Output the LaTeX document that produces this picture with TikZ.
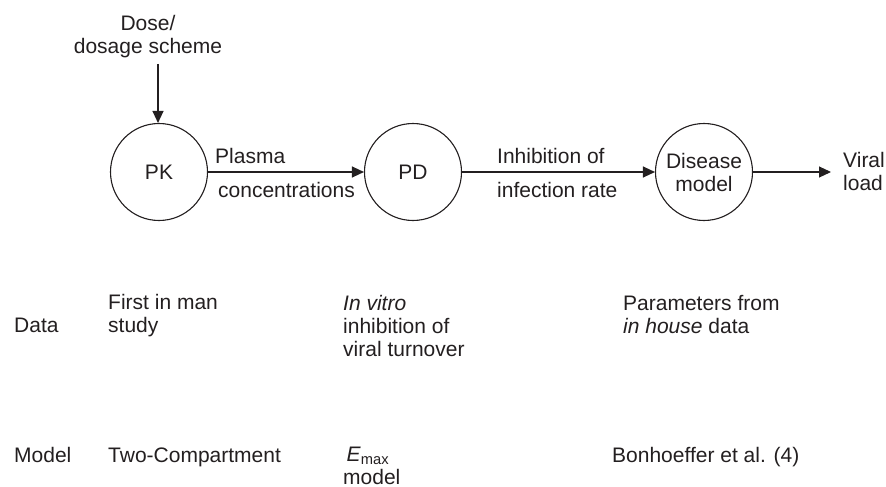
\documentclass[tikz,border=0pt]{standalone}
\usepackage{fontspec}
\setmainfont{Liberation Sans}
\usetikzlibrary{arrows.meta}
\definecolor{ink}{RGB}{35,31,32}
\tikzset{
  proc/.style={circle, draw=ink, line width=1.1pt, minimum size=97pt, inner sep=0pt, text=ink, align=center},
  lbl/.style={anchor=base west, inner sep=0pt, text=ink, align=left},
  arr/.style={draw=ink, line width=1.1pt, -{Triangle[length=12pt,width=11pt]}},
}
\begin{document}
\begin{tikzpicture}[x=1pt,y=-1pt, font=\fontsize{21}{23}\selectfont]
\useasboundingbox (0,0) rectangle (886,487);
% process circles
\node[proc] (PK) at (159,172) {PK};
\node[proc] (PD) at (413,172) {PD};
\node[proc] (DM) at (704,172) {Disease\\model};
% dose input
\node[anchor=base, inner sep=0pt, text=ink, align=center] (dose) at (148,53) {Dose/\\dosage scheme};
\coordinate (d0) at (158,64);
\draw[arr] (d0) -- (d0 |- PK.north);
% connectors
\draw[arr] (PK) -- (PD);
\draw[arr] (PD) -- (DM);
\coordinate (vl) at (831,172);
\draw[arr] (DM) -- (vl);
% connector labels
\node[lbl] (plasma) at (215,163) {Plasma};
\node[lbl] (conc) at (218,197) {concentrations};
\node[lbl] (inh) at (497,163) {Inhibition of};
\node[lbl] (inf) at (497,197) {infection rate};
\node[lbl] (viral) at (843,190) {Viral\\load};
% Data row
\node[lbl] (data) at (14,332) {Data};
\node[lbl] (fim) at (108,332) {First in man\\study};
\node[lbl] (vitro) at (343,356) {\textit{In vitro}\\inhibition of\\viral turnover};
\node[lbl] (param) at (623,333) {Parameters from\\\textit{in house} data};
% Model row
\node[lbl] (model) at (14,462) {Model};
\node[lbl] (twoc) at (108,462) {Two-Compartment};
\node[lbl] (emax) at (343,484) {\,\textit{E}\textsubscript{max}\\model};
\node[lbl] (bonh) at (612,462) {Bonhoeffer et al. (4)};
\end{tikzpicture}
\end{document}
